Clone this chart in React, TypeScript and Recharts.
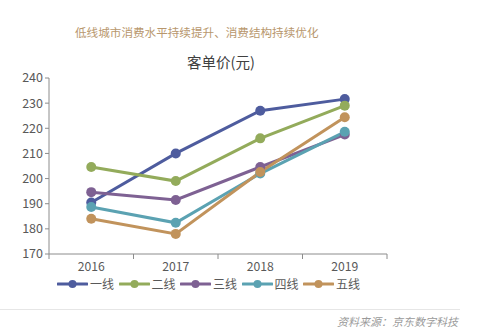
import React from "react";
import { LineChart, Line, XAxis, YAxis, Legend } from "recharts";

const years = ["2016", "2017", "2018", "2019"];
const tier1 = [190.5, 210, 227, 231.6];
const tier2 = [204.6, 199, 216, 229];
const tier3 = [194.6, 191.5, 204.6, 217.5];
const tier4 = [188.7, 182.4, 202, 218.6];
const tier5 = [184, 178, 202.6, 224.4];
const yTicks = [170, 180, 190, 200, 210, 220, 230, 240];

const seriesNames = ["一线", "二线", "三线", "四线", "五线"];
const seriesColors = ["#4e5c9e", "#93ab5b", "#7e6193", "#5ba2b2", "#c1935c"];
const seriesValues = [tier1, tier2, tier3, tier4, tier5];

const data = years.map((y, i) => {
  const row: any = { x: i + 0.5, year: y };
  seriesValues.forEach((vals, s) => {
    row["s" + s] = vals[i];
  });
  return row;
});

const font = "'Noto Sans CJK SC', 'Noto Sans', sans-serif";

const XTick = (props: any) => {
  const { x, y, payload } = props;
  const v = payload.value;
  if (Number.isInteger(v)) {
    return <line x1={x} x2={x} y1={y - 8} y2={y - 3} stroke="#8c8c8c" strokeWidth={1} />;
  }
  const idx = Math.floor(v);
  return (
    <text x={x} y={y + 9} textAnchor="middle" fontSize={12.2} fill="#595959" fontFamily={font}>
      {years[idx]}
    </text>
  );
};

const LegendContent = () => (
  <div style={{ display: "flex", fontFamily: font, fontSize: 12, lineHeight: "12px", color: "#595959", height: 12 }}>
    {seriesNames.map((n, i) => (
      <div key={n} style={{ display: "flex", alignItems: "center", width: 61.5, height: 12 }}>
        <svg width={31} height={12}>
          <line x1={1} x2={30} y1={6} y2={6} stroke={seriesColors[i]} strokeWidth={3} strokeLinecap="round" />
          <circle cx={15.5} cy={6} r={4} fill={seriesColors[i]} />
        </svg>
        <span style={{ marginLeft: 2, lineHeight: "12px" }}>{n}</span>
      </div>
    ))}
  </div>
);

export default function App() {
  return (
    <div style={{ position: "absolute", left: 0, top: 0, width: 485, height: 334, background: "#fff", fontFamily: font }}>
      <div style={{ position: "absolute", left: 75, top: 24, fontSize: 11.6, color: "#b8976d", whiteSpace: "nowrap" }}>
        低线城市消费水平持续提升、消费结构持续优化
      </div>
      <div style={{ position: "absolute", left: 0, width: 442, top: 51, textAlign: "center", fontSize: 14.5, color: "#404040", whiteSpace: "nowrap" }}>
        客单价(元)
      </div>
      <LineChart width={485} height={334} data={data} margin={{ top: 78, right: 98, bottom: 48, left: 0 }}>
        <XAxis
          dataKey="x"
          type="number"
          domain={[0, 4]}
          ticks={[0, 0.5, 1, 1.5, 2, 2.5, 3, 3.5, 4]}
          interval={0}
          tick={<XTick />}
          tickLine={false}
          axisLine={{ stroke: "#8c8c8c", strokeWidth: 1 }}
          height={20}
          allowDataOverflow
        />
        <YAxis
          type="number"
          domain={[170, 240]}
          ticks={yTicks}
          interval={0}
          width={49}
          tickSize={4}
          tickLine={{ stroke: "#8c8c8c" }}
          axisLine={{ stroke: "#8c8c8c" }}
          tick={{ fontSize: 12.5, fill: "#595959", fontFamily: font }}
        />
        <Legend
          content={<LegendContent />}
          wrapperStyle={{ position: "absolute", left: 57, top: 278, width: "auto", height: 12 }}
        />
        {seriesNames.map((n, i) => (
          <Line
            key={n}
            dataKey={"s" + i}
            name={n}
            stroke={seriesColors[i]}
            strokeWidth={3}
            dot={{ r: 5, fill: seriesColors[i], stroke: seriesColors[i], strokeWidth: 0 }}
            activeDot={false}
            isAnimationActive={false}
          />
        ))}
      </LineChart>
      <div style={{ position: "absolute", left: 0, top: 309, width: 460, height: 1, background: "#e6e6e6" }} />
      <div style={{ position: "absolute", right: 27, top: 313, fontSize: 11, color: "#9a9a9a", fontStyle: "italic", whiteSpace: "nowrap" }}>
        资料来源：京东数字科技
      </div>
    </div>
  );
}
